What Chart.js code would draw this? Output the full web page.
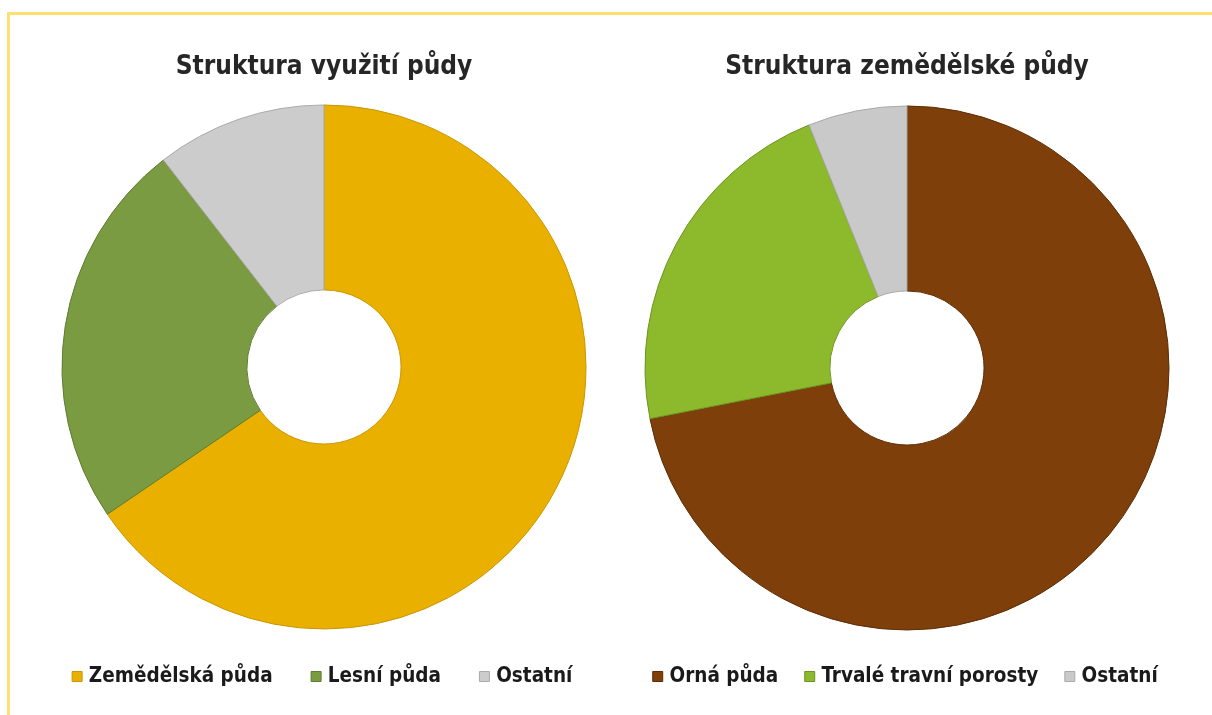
<!DOCTYPE html>
<html lang="cs">
<head>
  <meta charset="UTF-8">
  <title>Struktura půdy</title>
  <script src="https://cdn.jsdelivr.net/npm/chart.js"></script>
  <style>
    html, body {
      margin: 0;
      padding: 0;
      width: 1212px;
      height: 715px;
      overflow: hidden;
      background: #ffffff;
    }
    .frame {
      position: absolute;
      left: 7px;
      top: 12px;
      width: 1220px;
      height: 720px;
      border-top: 3px solid #FFE070;
      border-left: 3px solid #FFE070;
    }
    canvas {
      position: absolute;
      top: 0;
    }
    #landChart { left: 14px; }
    #agriChart { left: 597px; }
  </style>
</head>
<body>
  <div class="frame"></div>
  <canvas id="landChart" width="620" height="715"></canvas>
  <canvas id="agriChart" width="620" height="715"></canvas>

  <script>
    // levý graf - využití půdy (%)
    const landTitle = 'Struktura využití půdy';
    const landLabels = ['Zemědělská půda', 'Lesní půda', 'Ostatní'];
    const landValues = [65.5, 24.0, 10.5];
    const landColors = ['#E9B000', '#7A9B42', '#CCCCCC'];
    const landBorders = ['#C99600', '#5F7D32', '#ABABAB'];

    // pravý graf - zemědělská půda (%)
    const agriTitle = 'Struktura zemědělské půdy';
    const agriLabels = ['Orná půda', 'Trvalé travní porosty', 'Ostatní'];
    const agriValues = [71.9, 22.0, 6.1];
    const agriColors = ['#7E3F0A', '#8DB92D', '#C9C9C9'];
    const agriBorders = ['#5C2D06', '#6E9420', '#A9A9A9'];

    const legendFontSize = 20.5;

    function makeDoughnut(id, title, labels, values, colors, borders, legendGap, shift) {
      // keep the ring centre near y 367 whatever the legend padding is
      const titleBottomPad = legendGap - 15.5 + shift;
      const ctx = document.getElementById(id).getContext('2d');
      return new Chart(ctx, {
        type: 'doughnut',
        data: {
          labels: labels,
          datasets: [{
            data: values,
            backgroundColor: colors,
            borderColor: borders,
            borderWidth: 1
          }]
        },
        options: {
          responsive: false,
          animation: false,
          radius: 262,
          cutout: '29.4%',
          layout: { padding: { top: 0, bottom: 18.25, left: 0, right: 0 } },
          plugins: {
            tooltip: { enabled: false },
            title: {
              display: true,
              text: title,
              color: '#262626',
              font: { family: "'DejaVu Sans Condensed', 'Liberation Sans', sans-serif", size: 26, weight: 'bold' },
              padding: { top: 52, bottom: titleBottomPad }
            },
            legend: {
              display: true,
              position: 'bottom',
              labels: {
                color: '#1a1a1a',
                font: { family: "'DejaVu Sans Condensed', 'Liberation Sans', sans-serif", size: legendFontSize, weight: 'bold' },
                usePointStyle: true,
                pointStyle: 'rect',
                boxHeight: 10,
                boxWidth: 3,
                padding: legendGap
              }
            }
          }
        }
      });
    }

    makeDoughnut('landChart', landTitle, landLabels, landValues, landColors, landBorders, 42, 0);
    makeDoughnut('agriChart', agriTitle, agriLabels, agriValues, agriColors, agriBorders, 30, 2);
  </script>
</body>
</html>
